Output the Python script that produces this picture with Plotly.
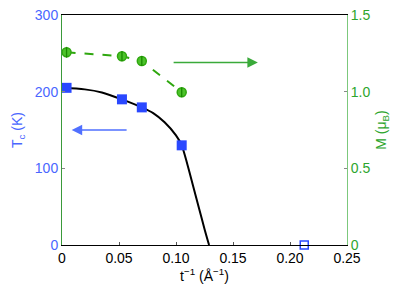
import plotly.graph_objects as go

# Tc data (left axis)
tc_x = [0.004, 0.0526, 0.070, 0.105]
tc_y = [205, 190, 179.5, 130]
# open square (Tc = 0)
tc0_x = [0.2125]
tc0_y = [0]
# fitted curve
fit_x = [0.000, 0.020, 0.035, 0.0526, 0.070, 0.080, 0.090, 0.100, 0.105, 0.110, 0.115, 0.120, 0.125, 0.129]
fit_y = [205, 203, 199, 190, 179.5, 172, 160, 143, 130, 105, 77, 49, 21, 0]
# magnetization (right axis)
m_x = [0.004, 0.0526, 0.070, 0.105]
m_y = [1.257, 1.231, 1.20, 0.996]
m_err = [0.035, 0.025, 0.025, 0.025]

xticks = [0, 0.05, 0.10, 0.15, 0.20, 0.25]
xticklabels = ["0", "0.05", "0.10", "0.15", "0.20", "0.25"]
yticks = [0, 100, 200, 300]
y2ticks = [0, 0.5, 1.0, 1.5]
y2ticklabels = ["0", "0.5", "1.0", "1.5"]

BLUE = "#2a48ff"
BLUE_T = "#4a66ff"
GREEN = "#2fa70f"
GREEN_T = "#2da52d"
FONT = "Liberation Sans, Arial, sans-serif"

fig = go.Figure()
fig.add_trace(go.Scatter(x=fit_x, y=fit_y, mode="lines", line=dict(color="black", width=2, shape="spline", smoothing=0.8),
                         showlegend=False, hoverinfo="skip"))
fig.add_trace(go.Scatter(x=tc_x, y=tc_y, mode="markers",
                         marker=dict(symbol="square", size=10, color=BLUE, line=dict(width=0)),
                         showlegend=False))
fig.add_trace(go.Scatter(x=tc0_x, y=tc0_y, mode="markers",
                         marker=dict(symbol="square-open", size=8, color=BLUE, line=dict(width=1.5)),
                         showlegend=False, cliponaxis=False))
fig.add_trace(go.Scatter(x=m_x, y=m_y, yaxis="y2", mode="lines+markers",
                         line=dict(color=GREEN, width=2, dash="dash"),
                         marker=dict(symbol="circle", size=9, color="#4cc22a", line=dict(color=GREEN, width=1.5)),
                         error_y=dict(type="data", array=m_err, color="#157a00", thickness=1.3, width=0),
                         showlegend=False, cliponaxis=False))
# inner vertical error-bar strokes drawn over the circles
fig.add_trace(go.Scatter(x=m_x, y=m_y, yaxis="y2", mode="markers",
                         marker=dict(symbol="line-ns", size=7, line=dict(color="#1a8a00", width=1.3)),
                         showlegend=False, hoverinfo="skip", cliponaxis=False))

fig.add_annotation(x=0.0085, y=150, ax=0.058, ay=150, xref="x", yref="y", axref="x", ayref="y",
                   text="", showarrow=True, arrowhead=2, arrowsize=1.4, arrowwidth=1.5, arrowcolor="#5070ff")
fig.add_annotation(x=0.1718, y=1.19, ax=0.0966, ay=1.19, xref="x", yref="y2", axref="x", ayref="y2",
                   text="", showarrow=True, arrowhead=2, arrowsize=1.4, arrowwidth=1.5, arrowcolor="#3aaa3a")

fig.update_layout(
    width=401, height=300,
    margin=dict(l=53.5, r=61.5, t=7, b=63, autoexpand=False),
    paper_bgcolor="white", plot_bgcolor="white",
    font=dict(family=FONT, size=14),
    xaxis=dict(range=[0, 0.25], tickvals=xticks, ticktext=xticklabels, automargin=False,
               ticklabeloverflow="allow",
               showgrid=False, zeroline=False, showline=True, linecolor="black", linewidth=1, mirror=True,
               ticks="inside", ticklen=3, tickcolor="#555", tickfont=dict(color="black", size=14),
               title=dict(text="t<sup>−1</sup> (Å<sup>−1</sup>)", font=dict(size=14, color="black"), standoff=2)),
    yaxis=dict(range=[0, 300], tickvals=yticks, showgrid=False, zeroline=False, automargin=False,
               ticklabeloverflow="allow",
               showline=True, linecolor="#3a9a3a", linewidth=1,
               ticks="inside", ticklen=3, tickcolor="#888", tickfont=dict(color=BLUE_T, size=14),
               title=dict(text="T<sub>c</sub> (K)", font=dict(size=14, color=BLUE_T), standoff=8)),
    yaxis2=dict(range=[0, 1.5], tickvals=y2ticks, ticktext=y2ticklabels, overlaying="y", side="right",
                ticklabeloverflow="allow",
                showgrid=False, zeroline=False, showline=True, linecolor="#7cc87c", linewidth=1, automargin=False,
                ticks="inside", ticklen=3, tickcolor="#888", tickfont=dict(color=GREEN_T, size=14),
                title=dict(text="M (μ<sub>B</sub>)", font=dict(size=14, color=GREEN_T), standoff=6)),
)

fig.write_html("out.html")
